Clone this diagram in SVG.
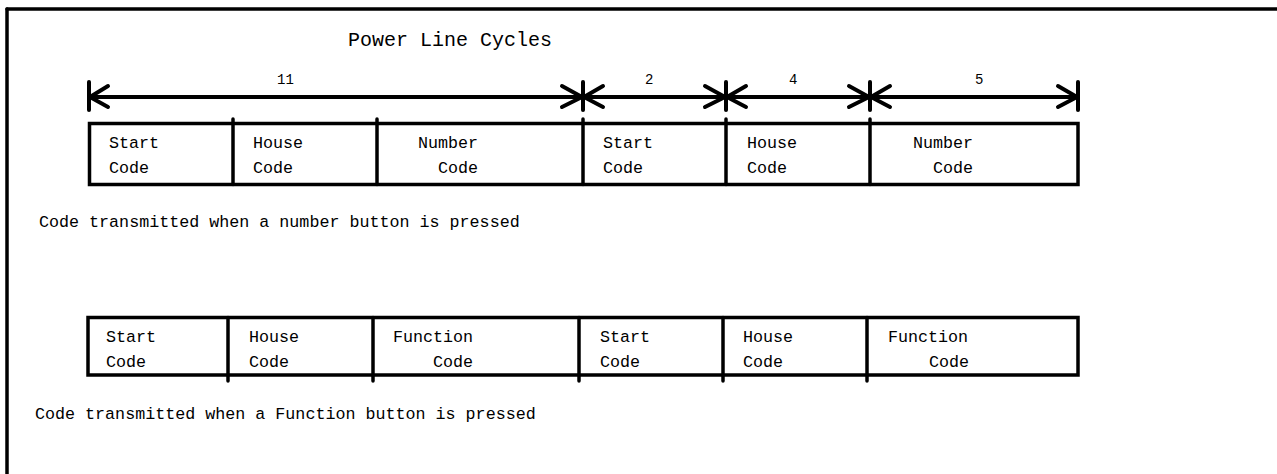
<svg xmlns="http://www.w3.org/2000/svg" width="1277" height="474" viewBox="0 0 1277 474">
<style>
text{font-family:"Liberation Mono","Courier New",monospace;fill:#000}
.t{font-size:16.7px}
.n{font-size:14px}
.ttl{font-size:20px}
.box{fill:none;stroke:#000;stroke-width:3.5}
.ln{stroke:#000;stroke-width:3.5;fill:none;stroke-linecap:round}
.ar{stroke:#000;stroke-width:4;fill:none;stroke-linecap:round;stroke-linejoin:round}
</style>
<rect width="1277" height="474" fill="#fff"/>
<g id="frame">
<line x1="7" y1="9" x2="1277" y2="9" class="ln" stroke-width="4"/>
<line x1="7" y1="9" x2="7" y2="474" class="ln" stroke-width="4"/>
</g>
<text x="348" y="46" class="ttl">Power Line Cycles</text>
<g id="connectors">
<line x1="89" y1="97" x2="1078" y2="97" class="ar"/>
<line x1="89" y1="82" x2="89" y2="110" class="ar"/>
<polyline points="108,86 90,97 108,107" class="ar"/>
<line x1="583" y1="82" x2="583" y2="110" class="ar"/>
<polyline points="562,86 582,97 562,107" class="ar"/>
<polyline points="603,86 584,97 603,107" class="ar"/>
<line x1="726" y1="82" x2="726" y2="110" class="ar"/>
<polyline points="705,86 725,97 705,107" class="ar"/>
<polyline points="746,86 727,97 746,107" class="ar"/>
<line x1="870" y1="82" x2="870" y2="110" class="ar"/>
<polyline points="849,86 869,97 849,107" class="ar"/>
<polyline points="890,86 871,97 890,107" class="ar"/>
<line x1="1078" y1="82" x2="1078" y2="110" class="ar"/>
<polyline points="1058,86 1077,97 1058,107" class="ar"/>
</g>
<g id="labels">
<text x="277" y="84" class="n">11</text>
<text x="645" y="84" class="n">2</text>
<text x="789" y="84" class="n">4</text>
<text x="975" y="84" class="n">5</text>
</g>
<g id="row1">
<rect x="89.5" y="123.5" width="988.5" height="61" class="box"/>
<line x1="233" y1="119" x2="233" y2="184.5" class="ln"/>
<line x1="377" y1="119" x2="377" y2="184.5" class="ln"/>
<line x1="583" y1="119" x2="583" y2="184.5" class="ln"/>
<line x1="726" y1="119" x2="726" y2="184.5" class="ln"/>
<line x1="870" y1="119" x2="870" y2="184.5" class="ln"/>
<g id="r1-start1"><text x="109" y="148" class="t">Start</text><text x="109" y="173" class="t">Code</text></g>
<g id="r1-house1"><text x="253" y="148" class="t">House</text><text x="253" y="173" class="t">Code</text></g>
<g id="r1-number1"><text x="418" y="148" class="t">Number</text><text x="438" y="173" class="t">Code</text></g>
<g id="r1-start2"><text x="603" y="148" class="t">Start</text><text x="603" y="173" class="t">Code</text></g>
<g id="r1-house2"><text x="747" y="148" class="t">House</text><text x="747" y="173" class="t">Code</text></g>
<g id="r1-number2"><text x="913" y="148" class="t">Number</text><text x="933" y="173" class="t">Code</text></g>
</g>
<text x="39" y="227" class="t">Code transmitted when a number button is pressed</text>
<g id="row2">
<rect x="88" y="317.5" width="990" height="57.5" class="box"/>
<line x1="228" y1="317.5" x2="228" y2="381" class="ln"/>
<line x1="373" y1="317.5" x2="373" y2="381" class="ln"/>
<line x1="579" y1="317.5" x2="579" y2="381" class="ln"/>
<line x1="723" y1="317.5" x2="723" y2="381" class="ln"/>
<line x1="867" y1="317.5" x2="867" y2="381" class="ln"/>
<g id="r2-start1"><text x="106" y="342" class="t">Start</text><text x="106" y="367" class="t">Code</text></g>
<g id="r2-house1"><text x="249" y="342" class="t">House</text><text x="249" y="367" class="t">Code</text></g>
<g id="r2-function1"><text x="393" y="342" class="t">Function</text><text x="433" y="367" class="t">Code</text></g>
<g id="r2-start2"><text x="600" y="342" class="t">Start</text><text x="600" y="367" class="t">Code</text></g>
<g id="r2-house2"><text x="743" y="342" class="t">House</text><text x="743" y="367" class="t">Code</text></g>
<g id="r2-function2"><text x="888" y="342" class="t">Function</text><text x="929" y="367" class="t">Code</text></g>
</g>
<text x="35" y="419" class="t">Code transmitted when a Function button is pressed</text>
</svg>
